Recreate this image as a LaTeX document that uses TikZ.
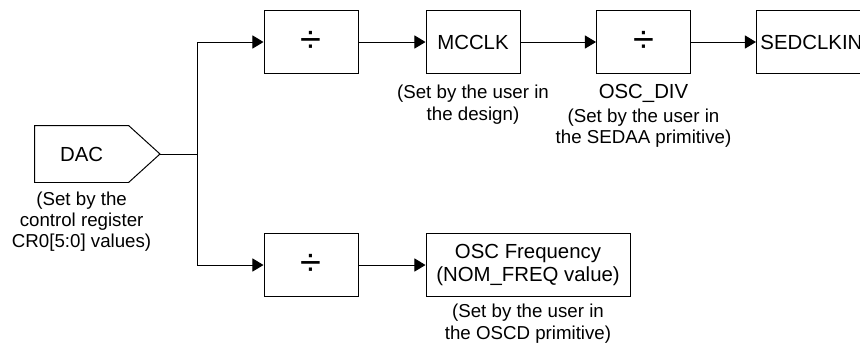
\documentclass[tikz,border=0pt]{standalone}
\usepackage{fontspec}
\setmainfont{Liberation Sans}
\usetikzlibrary{arrows.meta,positioning,calc}

\tikzset{
  blk/.style={draw, line width=0.7pt, minimum width=2.35cm, minimum height=1.575cm,
    inner sep=0pt, align=center, font=\fontsize{14.5}{15.8}\selectfont},
  note/.style={align=center, inner sep=0pt, font=\fontsize{13.3}{15.1}\selectfont},
}
\newcommand{\divsign}{{\fontsize{27}{27}\selectfont ÷}}

\begin{document}
\begin{tikzpicture}[>={Triangle[length=2.8mm,width=3.3mm]}, line width=0.7pt]
\useasboundingbox (0,0) rectangle (21.5,8.65);
\clip (0,0) rectangle (21.5,8.65);
% source
\node[minimum width=2.325cm, minimum height=1.4cm, inner sep=0pt,
  font=\fontsize{14.5}{15}\selectfont] (dac) at (2.04,4.8) {DAC};
\coordinate (tip) at (4.0,4.8);
\draw (dac.north west) -- (dac.north east) -- (tip) -- (dac.south east)
  -- (dac.south west) -- cycle;
\node[note, below=0.22cm of dac] (daclbl) {(Set by the\\control register\\CR0[5:0] values)};
\coordinate (jn) at (4.925,4.8);
% upper chain
\node[blk] (divA) at (7.775,7.6) {\divsign};
\node[blk] (mcclk) at (11.825,7.6) {MCCLK};
\node[blk] (divC) at (16.0875,7.6) {\divsign};
\node[blk, anchor=west, minimum width=3.5cm, text width=3.3cm, align=left,
  inner xsep=2pt] (sedclk) at (18.9,7.6) {SEDCLKIN};
\node[note, below=0.27cm of mcclk] (mcclklbl) {(Set by the user in\\the design)};
\node[below=0.25cm of divC, inner sep=0pt, font=\fontsize{14.5}{15.8}\selectfont]
  (oscdiv) {OSC\_DIV};
\node[note, below=0.12cm of oscdiv] (divlbl) {(Set by the user in\\the SEDAA primitive)};
% lower chain
\node[blk] (divB) at (7.775,2.025) {\divsign};
\node[blk, minimum width=5.1cm] (oscfreq) at (13.2,2.025) {OSC Frequency\\(NOM\_FREQ value)};
\node[note, below=0.17cm of oscfreq] (freqlbl) {(Set by the user in\\the OSCD primitive)};
% connectors
\draw (tip) -- (jn);
\draw[->] (jn) |- (divA.west);
\draw[->] (jn) |- (divB.west);
\draw[->] (divA) -- (mcclk);
\draw[->] (mcclk) -- (divC);
\draw[->] (divC) -- (sedclk);
\draw[->] (divB) -- (oscfreq);
\end{tikzpicture}
\end{document}
